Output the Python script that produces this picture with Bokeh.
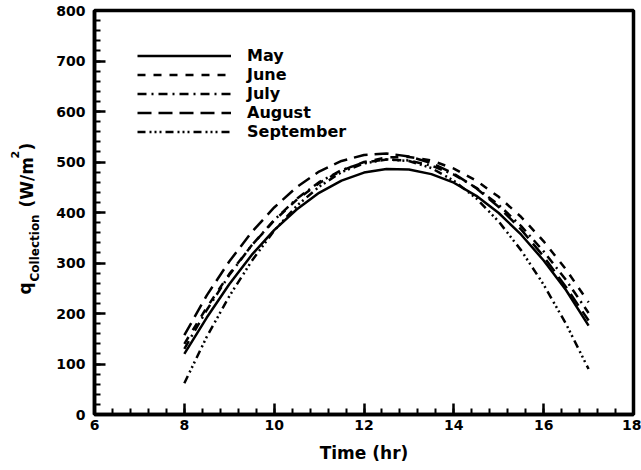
import math
from bokeh.plotting import figure
from bokeh.layouts import row
from bokeh.models import Range1d, FixedTicker, Legend, LegendItem
from bokeh.core.properties import value
from bokeh.embed import file_html
from bokeh.resources import INLINE

# ---- data ----
hours = [8, 8.5, 9, 9.5, 10, 10.5, 11, 11.5, 12, 12.5, 13, 13.5, 14, 14.5, 15, 15.5, 16, 16.5, 17]
may = [120, 192, 258, 316, 365, 406, 439, 463, 479, 486, 485, 476, 459, 433, 399, 356, 305, 246, 176]
june = [140, 212, 278, 335, 384, 425, 458, 483, 500, 509, 510, 503, 487, 463, 431, 391, 343, 287, 222]
july = [130, 207, 276, 335, 385, 427, 460, 484, 499, 505, 503, 493, 475, 449, 415, 373, 323, 266, 201]
august = [157, 236, 303, 361, 410, 450, 481, 502, 514, 517, 511, 498, 477, 448, 411, 366, 313, 252, 186]
september = [62, 154, 234, 304, 364, 413, 451, 480, 497, 505, 502, 488, 463, 428, 382, 325, 257, 179, 90]

series_names = ["May", "June", "July", "August", "September"]
series_values = [may, june, july, august, september]

x_major = [6, 8, 10, 12, 14, 16, 18]
y_major = [0, 100, 200, 300, 400, 500, 600, 700, 800]

y_label_parts = ["q", "Collection", "(W/m", "2", ")"]

FONT = "DejaVu Sans"
W, H = 641, 470
LW = 45                      # width of the strip holding the y-axis title
BL, BR, BT, BB = 94, 8, 10, 56

# ---- main plot ----
p = figure(width=W - LW, height=H, output_backend="svg", toolbar_location=None,
           x_range=Range1d(x_major[0], x_major[-1]), y_range=Range1d(y_major[0], y_major[-1]),
           min_border_left=BL - LW, min_border_right=BR, min_border_top=BT, min_border_bottom=BB)
p.xgrid.visible = False
p.ygrid.visible = False
p.background_fill_color = "white"
p.border_fill_color = "white"
p.outline_line_color = "black"
p.outline_line_width = 3.5

x_minor = [x_major[0] + i * 0.4 for i in range(int((x_major[-1] - x_major[0]) / 0.4) + 1)]
y_minor = [y_major[0] + i * 20 for i in range(int((y_major[-1] - y_major[0]) / 20) + 1)]
p.xaxis.ticker = FixedTicker(ticks=x_major, minor_ticks=x_minor)
p.yaxis.ticker = FixedTicker(ticks=y_major, minor_ticks=y_minor)

for ax in (p.xaxis[0], p.yaxis[0]):
    ax.axis_line_width = 3.5
    ax.axis_line_color = "black"
    ax.major_tick_in = 11
    ax.major_tick_out = 0
    ax.minor_tick_in = 6
    ax.minor_tick_out = 0
    ax.major_tick_line_width = 2.5
    ax.minor_tick_line_width = 2
    ax.major_label_text_font = FONT
    ax.major_label_text_font_style = "bold"
    ax.major_label_text_font_size = "14px"
    ax.major_label_text_color = "black"

p.xaxis.major_label_standoff = 5
p.yaxis.major_label_standoff = 9
p.xaxis.axis_label = "Time (hr)"
p.xaxis.axis_label_text_font = FONT
p.xaxis.axis_label_text_font_style = "bold"
p.xaxis.axis_label_text_font_size = "17px"
p.xaxis.axis_label_standoff = 10
p.xaxis.axis_label_text_color = "black"

dashes = ["solid", "8 8", "9 5 2 5", "14 7", "8 4 2 3 2 3 2 4"]
items = []
for name, vals, dash in zip(series_names, series_values, dashes):
    r = p.line(hours, vals, line_color="black", line_width=2.5, line_dash=dash)
    items.append(LegendItem(label=name, renderers=[r]))

legend = Legend(items=items, location=(43, 273), orientation="vertical",
                padding=0, margin=0, spacing=0, glyph_width=94, glyph_height=19,
                label_height=19, label_standoff=16,
                label_text_font=FONT, label_text_font_style="bold",
                label_text_font_size="16px", label_text_color="black",
                border_line_color=None, background_fill_alpha=0)
p.add_layout(legend, "center")

# ---- narrow strip with the rotated y-axis title (sub/superscript pieces) ----
# its frame is aligned with the main frame (top BT, bottom H-BB), so map page pixels
s = figure(width=LW, height=H, output_backend="svg", toolbar_location=None,
           x_range=Range1d(0, LW), y_range=Range1d(BB, H - BT),
           min_border_left=0, min_border_right=0, min_border_top=BT, min_border_bottom=BB)
s.axis.visible = False
s.grid.visible = False
s.outline_line_color = None
s.background_fill_color = "white"
s.border_fill_color = "white"

# pixel placement (x from left, y from top) and sizes of the pieces
piece_px = [24, 34, 26, 14, 26]
piece_py = [294, 281, 207, 158, 150]
piece_fs = ["17px", "12px", "17px", "11px", "17px"]
for txt, px, py, fs in zip(y_label_parts, piece_px, piece_py, piece_fs):
    s.text(x=[px], y=[H - py], text=[txt], angle=math.pi / 2,
           text_font=value(FONT), text_font_style="bold", text_font_size=fs,
           text_color="black", text_baseline="alphabetic", text_align="left")

layout = row(s, p, spacing=0)
open("out.html", "w").write(file_html(layout, INLINE))
